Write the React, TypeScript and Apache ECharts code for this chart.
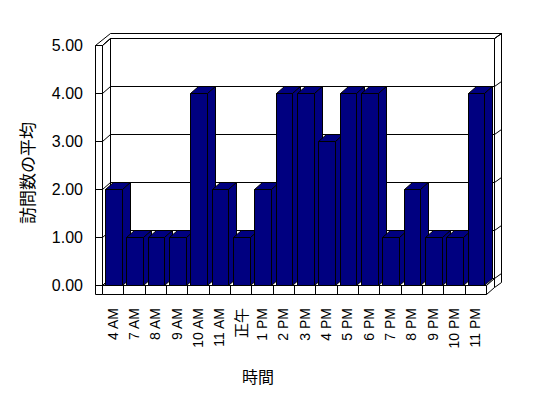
import React, { useEffect, useRef } from "react";
import * as echarts from "echarts";

const categories = ["4 AM", "7 AM", "8 AM", "9 AM", "10 AM", "11 AM", "正午", "1 PM", "2 PM", "3 PM", "4 PM", "5 PM", "6 PM", "7 PM", "8 PM", "9 PM", "10 PM", "11 PM"];
const visits = [2, 1, 1, 1, 4, 2, 1, 2, 4, 4, 3, 4, 4, 1, 2, 1, 1, 4];
const yMin = 0;
const yMax = 5;
const yStep = 1;
const yTitle = "訪問数の平均";
const xTitle = "時間";

// 3D look parameters (pixels)
const DX = 8;
const DY = -7;
const BX = 6.5;
const BY = -5.5;
const WALL = 7;
const FLOOR = 9;
const BAR_RATIO = 0.78;

const s = (v: number) => Math.round(v) + 0.5;
const P = (pts: number[][]) => pts.map((p) => [s(p[0]), s(p[1])]);

const lineStyle = { stroke: "#000", lineWidth: 1, fill: "none" };
const faceStyle = { fill: "#fff", stroke: "#000", lineWidth: 1 };
const barStyle = { fill: "#000080", stroke: "#000", lineWidth: 1 };

function frameRender(params: any, api: any) {
  const cs = params.coordSys;
  const xL = cs.x;
  const xR = cs.x + cs.width;
  const yT = api.coord([0, yMax])[1];
  const yB = api.coord([0, yMin])[1];
  const yF = yB + FLOOR;
  const children: any[] = [];
  const poly = (pts: number[][]) => children.push({ type: "polygon", shape: { points: P(pts) }, style: faceStyle });
  const line = (a: number[], b: number[]) =>
    children.push({ type: "line", shape: { x1: s(a[0]), y1: s(a[1]), x2: s(b[0]), y2: s(b[1]) }, style: lineStyle });

  poly([[xR + DX, yT + DY], [xR + DX + BX, yT + DY + BY], [xR + DX + BX, yF + DY + BY], [xR + DX, yF + DY]]);
  poly([[xL - WALL, yT], [xL, yT], [xL + DX, yT + DY], [xR + DX, yT + DY], [xR + DX + BX, yT + DY + BY], [xL - WALL + DX + BX, yT + DY + BY]]);
  poly([[xL + DX, yT + DY], [xR + DX, yT + DY], [xR + DX, yB + DY], [xL + DX, yB + DY]]);
  poly([[xL, yT], [xL + DX, yT + DY], [xL + DX, yB + DY], [xL, yB]]);
  poly([[xL - WALL, yT], [xL, yT], [xL, yF], [xL - WALL, yF]]);
  poly([[xL, yB], [xR, yB], [xR + DX, yB + DY], [xL + DX, yB + DY]]);
  poly([[xR, yB], [xR, yF], [xR + DX, yF + DY], [xR + DX, yB + DY]]);
  poly([[xL, yB], [xR, yB], [xR, yF], [xL, yF]]);

  for (let v = yMin; v <= yMax; v += yStep) {
    const y = api.coord([0, v])[1];
    line([xL - WALL, y], [xL, y]);
    line([xL, y], [xL + DX, y + DY]);
    line([xL + DX, y + DY], [xR + DX, y + DY]);
    line([xR + DX, y + DY], [xR + DX + BX, y + DY + BY]);
  }
  const bw = cs.width / categories.length;
  for (let i = 1; i < categories.length; i++) {
    const x = xL + i * bw;
    line([x, yB], [x, yF]);
  }
  return { type: "group", children };
}

function barRender(params: any, api: any) {
  const idx = api.value(0);
  const val = api.value(1);
  const top = api.coord([idx, val]);
  const base = api.coord([idx, yMin]);
  const bw = api.size([1, 0])[0];
  const w = bw * BAR_RATIO;
  const x0 = top[0] - w / 2 + 0.7;
  const x1 = x0 + w;
  const yt = top[1];
  const yb = base[1];
  return {
    type: "group",
    children: [
      { type: "polygon", shape: { points: P([[x0, yt], [x1, yt], [x1, yb], [x0, yb]]) }, style: barStyle },
      { type: "polygon", shape: { points: P([[x0, yt], [x1, yt], [x1 + DX, yt + DY], [x0 + DX, yt + DY]]) }, style: barStyle },
      { type: "polygon", shape: { points: P([[x1, yt], [x1 + DX, yt + DY], [x1 + DX, yb + DY], [x1, yb]]) }, style: barStyle },
    ],
  };
}

export default function App() {
  const ref = useRef<HTMLDivElement>(null);
  useEffect(() => {
    if (!ref.current) return;
    const chart = echarts.init(ref.current, undefined, { renderer: "svg" });
    chart.setOption({
      animation: false,
      backgroundColor: "#fff",
      grid: { left: 102, right: 62, top: 45, bottom: 113 },
      xAxis: {
        type: "category",
        data: categories,
        axisLine: { show: false },
        axisTick: { show: false },
        splitLine: { show: false },
        axisLabel: {
          rotate: 90,
          margin: 23,
          interval: 0,
          color: "#000",
          fontFamily: "Liberation Sans",
          fontSize: 14,
          formatter: (v: string) => (/[\u3000-\u9fff]/.test(v) ? "{cjk|" + v + "}" : v),
          rich: { cjk: { fontFamily: "Noto Sans CJK JP", fontSize: 15, color: "#000" } },
        },
      },
      yAxis: {
        type: "value",
        min: yMin,
        max: yMax,
        interval: yStep,
        axisLine: { show: false },
        axisTick: { show: false },
        splitLine: { show: false },
        axisLabel: {
          margin: 19,
          color: "#000",
          fontFamily: "Liberation Sans",
          fontSize: 16,
          formatter: (v: number) => v.toFixed(2),
        },
      },
      graphic: [
        {
          type: "text",
          x: 26,
          y: 173,
          rotation: Math.PI / 2,
          style: { text: yTitle, fontFamily: "Noto Sans CJK JP", fontSize: 17, fill: "#000", textAlign: "center", textVerticalAlign: "middle" },
        },
        {
          type: "text",
          x: 258,
          y: 376,
          style: { text: xTitle, fontFamily: "Noto Sans CJK JP", fontSize: 16, fill: "#000", textAlign: "center", textVerticalAlign: "middle" },
        },
      ],
      series: [
        {
          type: "custom",
          name: "frame",
          renderItem: frameRender,
          data: [[0, 0]],
          encode: { x: 0, y: 1 },
          clip: false,
          silent: true,
          z: 1,
        },
        {
          type: "custom",
          name: "訪問数の平均",
          renderItem: barRender,
          data: visits.map((v, i) => [i, v]),
          encode: { x: 0, y: 1 },
          clip: false,
          z: 2,
        },
      ],
    });
    return () => chart.dispose();
  }, []);
  return <div ref={ref} style={{ width: 548, height: 398, position: "absolute", left: 0, top: 0 }} />;
}
